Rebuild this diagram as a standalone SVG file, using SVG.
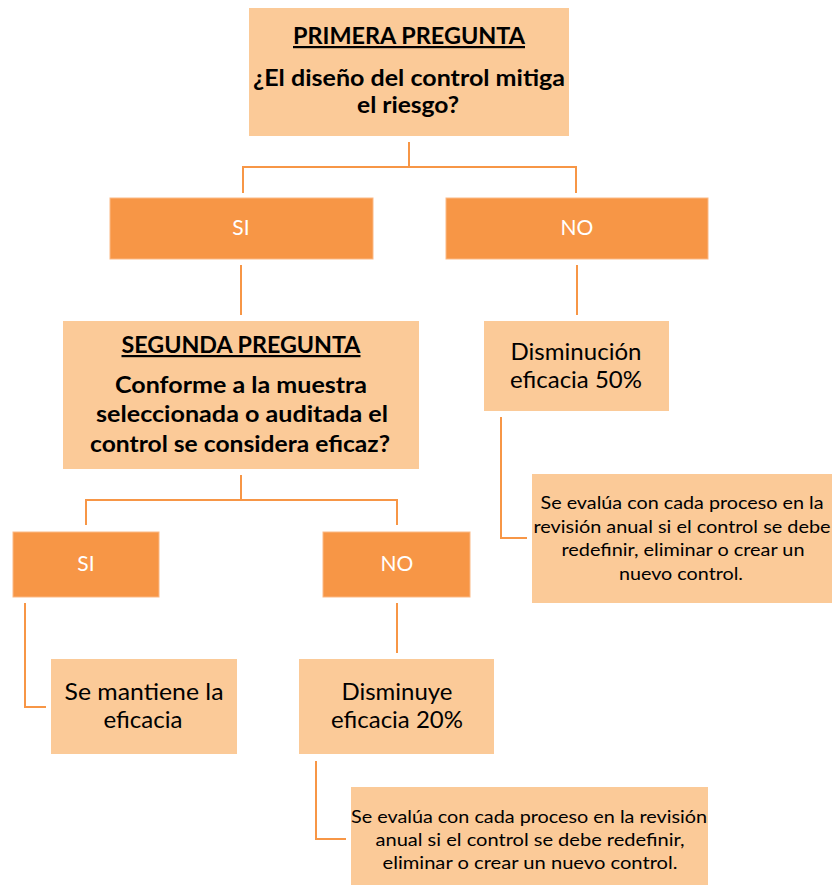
<svg xmlns="http://www.w3.org/2000/svg" width="838" height="887" viewBox="0 0 838 887">
<style>
.lt{fill:#FBCA98;}
.dk{fill:#F79646;stroke:#FBB985;stroke-width:1;}
.c{fill:none;stroke:#F79646;stroke-width:2;}
text{font-family:Lato,"Open Sans","Liberation Sans",sans-serif;text-anchor:middle;fill:#000;}
.b{font-weight:bold;font-size:22px;}
.r{font-size:23px;}
.s{font-size:17px;}
.w{fill:#fff;font-size:21px;}
</style>
<rect width="838" height="887" fill="#fff"/>
<g id="connectors">
<path class="c" d="M409 142V167M243 193V167H576V193"/>
<path class="c" d="M241 265V315M577 265V315"/>
<path class="c" d="M241 475V500M86 525V500H397V525"/>
<path class="c" d="M501 417V538H527"/>
<path class="c" d="M25 603V707H46M397 603V653"/>
<path class="c" d="M316 761V839H346"/>
</g>
<g id="q1">
<rect class="lt" x="249" y="8" width="320" height="128"/>
<text class="b" x="409" y="44" text-decoration="underline" textLength="232" lengthAdjust="spacingAndGlyphs">PRIMERA PREGUNTA</text>
<text class="b" x="409" y="86" textLength="312" lengthAdjust="spacingAndGlyphs">¿El diseño del control mitiga</text>
<text class="b" x="408" y="113" textLength="102" lengthAdjust="spacingAndGlyphs">el riesgo?</text>
</g>
<g id="si1">
<rect class="dk" x="110" y="198" width="263" height="61"/>
<text class="w" x="241" y="235">SI</text>
</g>
<g id="no1">
<rect class="dk" x="446" y="198" width="262" height="61"/>
<text class="w" x="577" y="235">NO</text>
</g>
<g id="q2">
<rect class="lt" x="63" y="321" width="356" height="148"/>
<text class="b" x="241" y="353" text-decoration="underline" textLength="239" lengthAdjust="spacingAndGlyphs">SEGUNDA PREGUNTA</text>
<text class="b" x="241" y="393" textLength="252" lengthAdjust="spacingAndGlyphs">Conforme a la muestra</text>
<text class="b" x="242" y="422" textLength="292" lengthAdjust="spacingAndGlyphs">seleccionada o auditada el</text>
<text class="b" x="240" y="452" textLength="300" lengthAdjust="spacingAndGlyphs">control se considera eficaz?</text>
</g>
<g id="dism50">
<rect class="lt" x="484" y="321" width="185" height="90"/>
<text class="r" x="576" y="360" textLength="131" lengthAdjust="spacingAndGlyphs">Disminución</text>
<text class="r" x="576" y="388" textLength="132" lengthAdjust="spacingAndGlyphs">eficacia 50%</text>
</g>
<g id="note1">
<rect class="lt" x="532" y="474" width="300" height="129"/>
<text class="s" x="682" y="509" textLength="283" lengthAdjust="spacingAndGlyphs">Se evalúa con cada proceso en la</text>
<text class="s" x="682" y="533" textLength="297" lengthAdjust="spacingAndGlyphs">revisión anual si el control se debe</text>
<text class="s" x="683" y="556" textLength="243" lengthAdjust="spacingAndGlyphs">redefinir, eliminar o crear un</text>
<text class="s" x="681" y="580" textLength="124" lengthAdjust="spacingAndGlyphs">nuevo control.</text>
</g>
<g id="si2">
<rect class="dk" x="13" y="532" width="146" height="65"/>
<text class="w" x="86" y="571">SI</text>
</g>
<g id="no2">
<rect class="dk" x="323" y="532" width="147" height="65"/>
<text class="w" x="397" y="571">NO</text>
</g>
<g id="mantiene">
<rect class="lt" x="51" y="659" width="186" height="95"/>
<text class="r" x="144" y="700" textLength="159" lengthAdjust="spacingAndGlyphs">Se mantiene la</text>
<text class="r" x="143" y="728" textLength="79" lengthAdjust="spacingAndGlyphs">eficacia</text>
</g>
<g id="dism20">
<rect class="lt" x="299" y="659" width="195" height="95"/>
<text class="r" x="397" y="700" textLength="111" lengthAdjust="spacingAndGlyphs">Disminuye</text>
<text class="r" x="397" y="728" textLength="132" lengthAdjust="spacingAndGlyphs">eficacia 20%</text>
</g>
<g id="note2">
<rect class="lt" x="351" y="787" width="357" height="98"/>
<text class="s" x="529" y="823" textLength="356" lengthAdjust="spacingAndGlyphs">Se evalúa con cada proceso en la revisión</text>
<text class="s" x="530" y="846" textLength="309" lengthAdjust="spacingAndGlyphs">anual si el control se debe redefinir,</text>
<text class="s" x="530" y="869" textLength="295" lengthAdjust="spacingAndGlyphs">eliminar o crear un nuevo control.</text>
</g>
</svg>
